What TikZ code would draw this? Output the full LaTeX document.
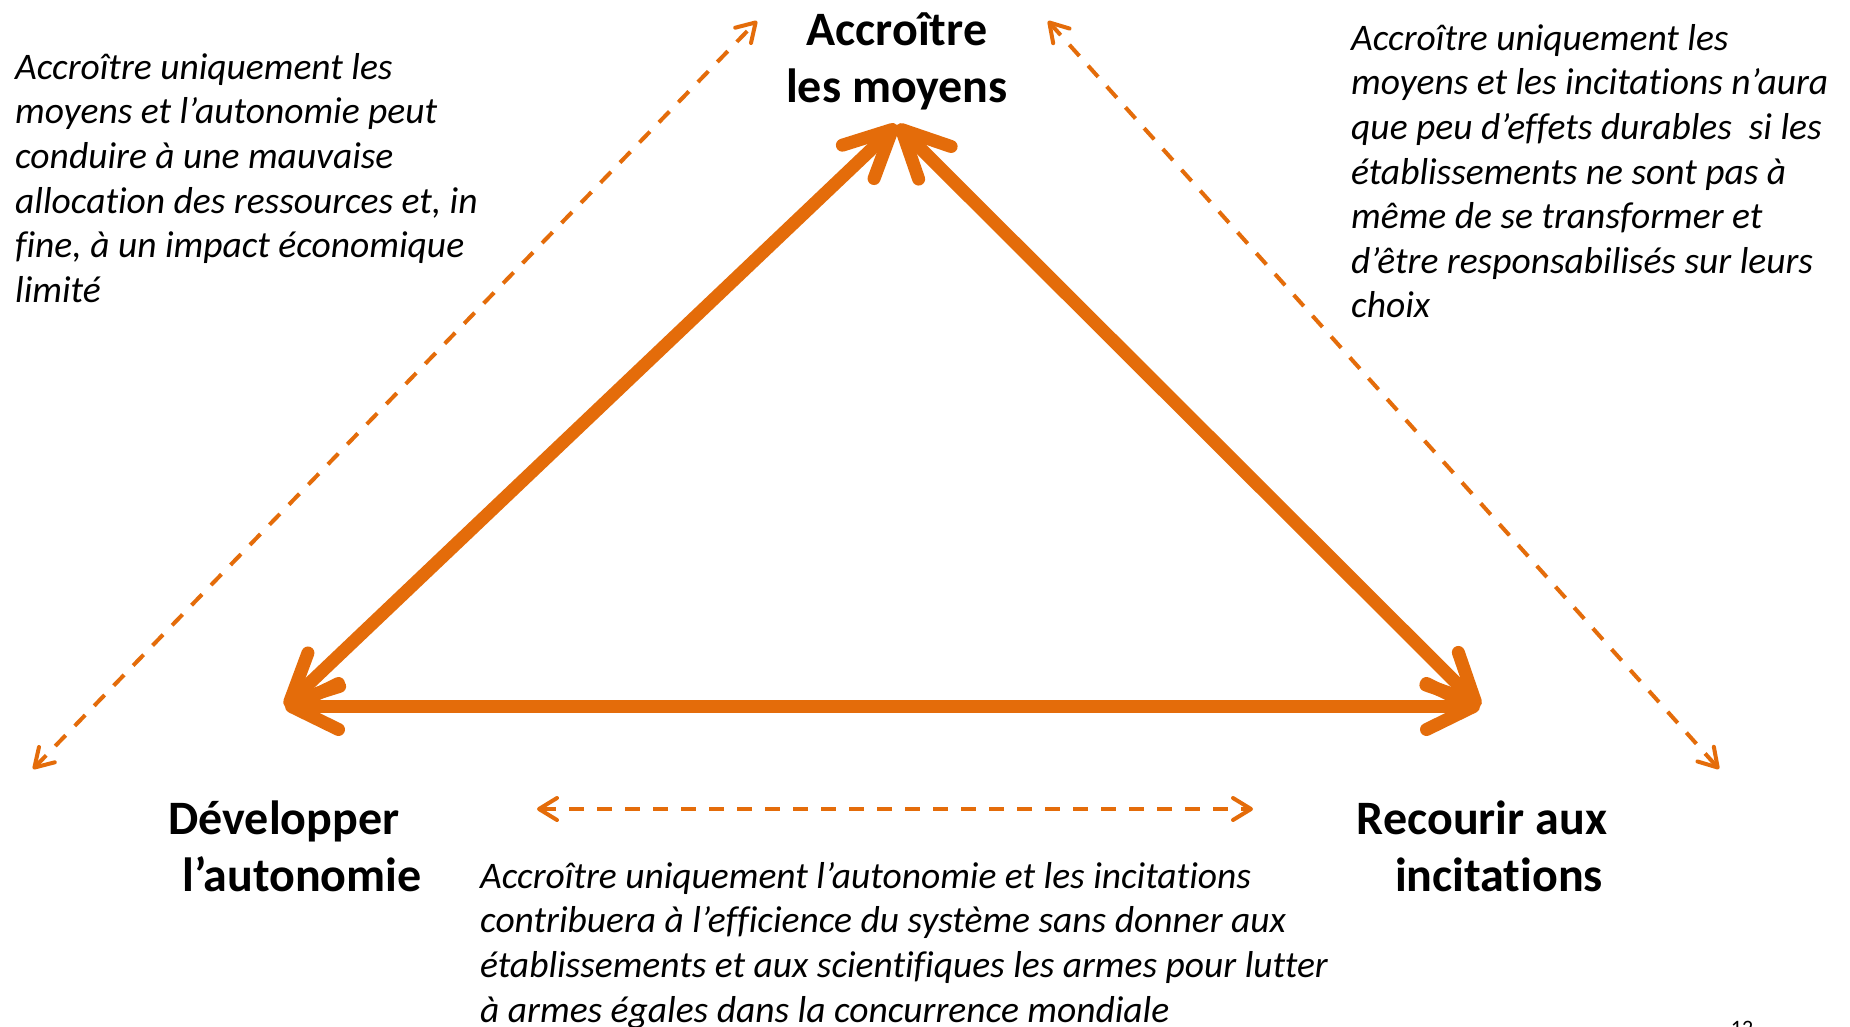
\documentclass[tikz,border=0pt]{standalone}
\usepackage{fontspec}
\setmainfont{Carlito}[Ligatures={NoCommon}]
\usetikzlibrary{arrows.meta}
\definecolor{orng}{HTML}{E46C0A}
\newcommand\lblfont{\fontsize{48}{57}\selectfont\bfseries}
\newcommand\notefont{\fontsize{37.5}{44.6}\selectfont\itshape}
\tikzset{
  mainarrow/.style={draw=orng, line width=13pt, line cap=round,
    arrows={Straight Barb[length=47pt,width=46pt,round]-Straight Barb[length=47pt,width=46pt,round]}},
  dasharrow/.style={draw=orng, line width=4pt, dash pattern=on 15pt off 13pt,
    arrows={Straight Barb[length=18pt,width=22pt,round]-Straight Barb[length=18pt,width=22pt,round]}},
  lbl/.style={font=\lblfont, align=center, inner sep=0pt, text=black},
  note/.style={font=\notefont, align=left, inner sep=0pt, anchor=north west, text=black}
}
\begin{document}
\begin{tikzpicture}[x=1pt,y=-1pt]
\useasboundingbox (0,0) rectangle (1850,1026);
\clip (0,0) rectangle (1850,1026);
\fill[white] (0,0) rectangle (1850,1026);
% vertices
\coordinate (A) at (897,125);
\coordinate (L) at (285,706.5);
\coordinate (R) at (1480,706.5);
\draw[mainarrow] (A) -- (L);
\draw[mainarrow] (A) -- (R);
\draw[mainarrow] (L) -- (R);
% dashed arrows
\coordinate (dl1) at (33,769);
\coordinate (dl2) at (757,21);
\coordinate (dr1) at (1048,21);
\coordinate (dr2) at (1719,769);
\coordinate (dh1) at (537,809);
\coordinate (dh2) at (1253,809);
\draw[dasharrow] (dl1) -- (dl2);
\draw[dasharrow] (dr1) -- (dr2);
\draw[dasharrow] (dh1) -- (dh2);
% labels
\node[lbl] (top) at (897,61) {Accroître\\les moyens};
\node[lbl] (left) at (284,846) {Développer\\\hspace*{36pt}l’autonomie};
\node[lbl] (right) at (1482,846) {Recourir aux\\\hspace*{34pt}incitations};
% notes
\node[note] (nl) at (15,53) {Accroître uniquement les\\moyens et l’autonomie peut\\conduire à une mauvaise\\allocation des ressources et, in\\fine, à un impact économique\\limité};
\node[note] (nr) at (1351,24) {Accroître uniquement les\\moyens et les incitations n’aura\\que peu d’effets durables\ \ si les\\établissements ne sont pas à\\même de se transformer et\\d’être responsabilisés sur leurs\\choix};
\node[note] (nb) at (480,862) {Accroître uniquement l’autonomie et les incitations\\contribuera à l’efficience du système sans donner aux\\établissements et aux scientifiques les armes pour lutter\\à armes égales dans la concurrence mondiale};
\node[font=\fontsize{22}{26}\selectfont, anchor=north, inner sep=0pt] (pg) at (1742,1021) {12};
\end{tikzpicture}
\end{document}
